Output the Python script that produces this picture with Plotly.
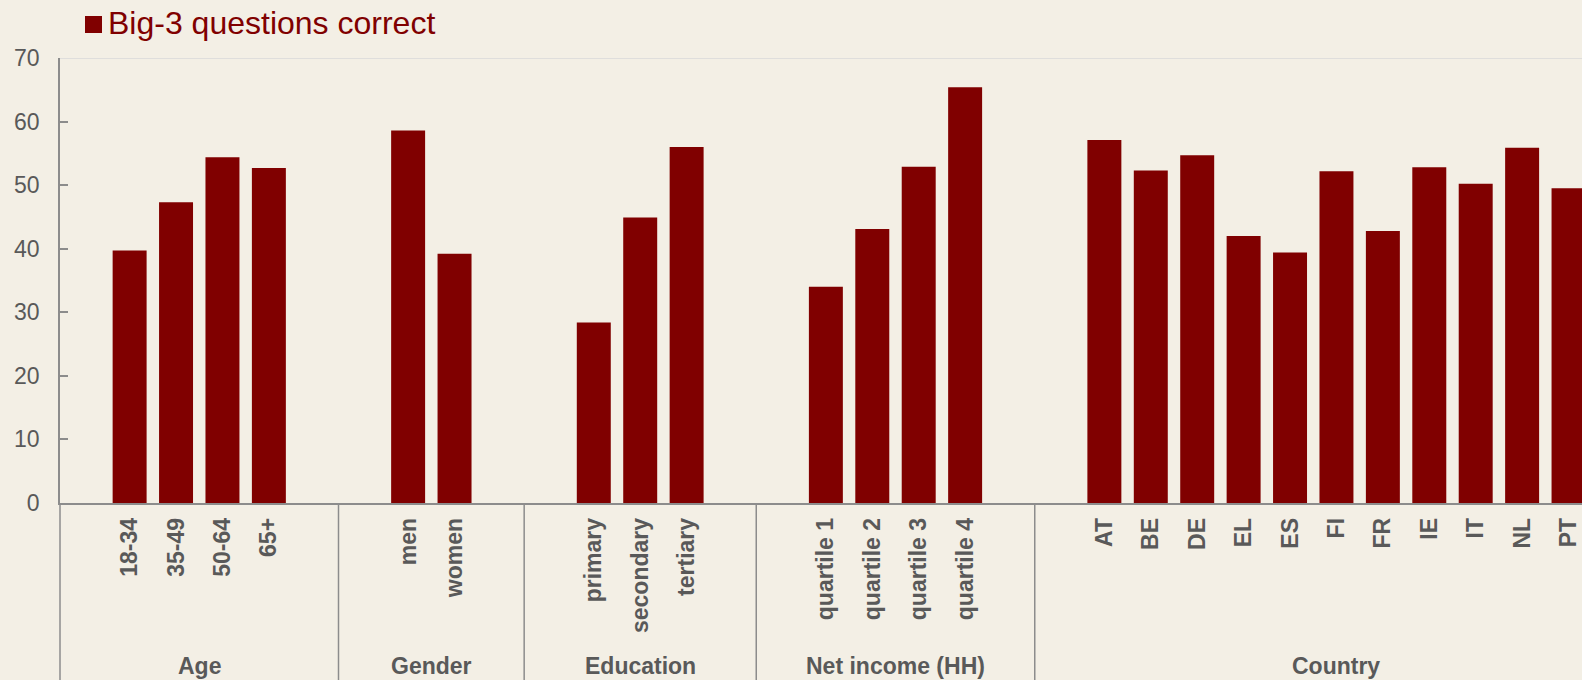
import plotly.graph_objects as go

# ---- data ----
groups = ["Age", "Gender", "Education", "Net income (HH)", "Country"]
age_labels = ["18-34", "35-49", "50-64", "65+"]
age_values = [39.7, 47.3, 54.4, 52.7]
gender_labels = ["men", "women"]
gender_values = [58.6, 39.2]
edu_labels = ["primary", "secondary", "tertiary"]
edu_values = [28.4, 44.9, 56.0]
income_labels = ["quartile 1", "quartile 2", "quartile 3", "quartile 4"]
income_values = [34.0, 43.1, 52.9, 65.4]
country_labels = ["AT", "BE", "DE", "EL", "ES", "FI", "FR", "IE", "IT", "NL", "PT"]
country_values = [57.1, 52.3, 54.7, 42.0, 39.4, 52.2, 42.8, 52.8, 50.2, 55.9, 49.5]
series_name = "Big-3 questions correct"

group_labels = [age_labels, gender_labels, edu_labels, income_labels, country_labels]
group_values = [age_values, gender_values, edu_values, income_values, country_values]

BG = "#F3EFE5"
BAR = "#800000"
TXT = "#595959"
AX = "#8C8C8C"
FONT = "Liberation Sans, Arial, sans-serif"

# build category axis with spacer slots between groups
cat_array = []
xs, ys = [], []
group_spans = []
gap = 0
for gi, (labs, vals) in enumerate(zip(group_labels, group_values)):
    start = len(cat_array)
    cat_array.append(f"gap{gap}"); gap += 1
    for l, v in zip(labs, vals):
        cat_array.append(l); xs.append(l); ys.append(v)
    if gi < len(group_labels) - 1:
        cat_array.append(f"gap{gap}"); gap += 1
        end = len(cat_array)
    else:
        end = len(cat_array) + 1  # last group continues off-chart
    group_spans.append((start - 0.5, end - 0.5))

fig = go.Figure()
fig.add_trace(go.Bar(x=xs, y=ys, marker=dict(color=BAR, line=dict(width=0)),
                     showlegend=False, name=series_name))

shapes = []
annotations = []
# group separators and y-axis extension below the axis
for (s, e) in group_spans[:-1]:
    shapes.append(dict(type="line", xref="x", yref="paper", x0=e, x1=e, y0=0, y1=-0.5,
                       line=dict(color=AX, width=1.5)))
shapes.append(dict(type="line", xref="paper", yref="paper", x0=0, x1=0, y0=0, y1=-0.5,
                   line=dict(color=AX, width=1.5)))
# top border line at 70
shapes.append(dict(type="line", xref="paper", yref="y", x0=0, x1=1, y0=70, y1=70,
                   line=dict(color="#D9D9D9", width=1.5)))
# legend square
shapes.append(dict(type="rect", xref="paper", yref="paper",
                   x0=(85 - 60) / 1522, x1=(102 - 60) / 1522,
                   y0=(503 - 33) / 445, y1=(503 - 16) / 445,
                   fillcolor=BAR, line=dict(width=0)))
annotations.append(dict(text=series_name, xref="paper", yref="paper",
                        x=(106 - 60) / 1522, y=(503 - 23) / 445, xanchor="left", yanchor="middle",
                        showarrow=False, font=dict(family=FONT, size=32, color=BAR)))
for g, (s, e) in zip(groups, group_spans):
    annotations.append(dict(text=g, xref="x", yref="paper", x=(s + e) / 2, y=-(666 - 503) / 445,
                            xanchor="center", yanchor="middle", showarrow=False,
                            font=dict(family=FONT, size=23, color=TXT, weight="bold")))

fig.update_layout(
    width=1582, height=680,
    margin=dict(l=60, r=0, t=58, b=177),
    paper_bgcolor=BG, plot_bgcolor=BG,
    bargap=0.268,
    shapes=shapes, annotations=annotations,
    xaxis=dict(type="category", categoryorder="array", categoryarray=cat_array,
               range=[-0.5, 32.29], tickvals=xs, ticktext=xs, tickangle=-90,
               tickfont=dict(family=FONT, size=23, color=TXT, weight="bold"),
               showline=True, linecolor=AX, linewidth=1.5, ticks="", showgrid=False,
               ticklabelstandoff=4),
    yaxis=dict(range=[0, 70], tickvals=[0, 10, 20, 30, 40, 50, 60, 70],
               tickfont=dict(family=FONT, size=23, color=TXT),
               showline=True, linecolor=AX, linewidth=1.5, ticks="inside", ticklen=8,
               tickcolor=AX, tickwidth=1.5, showgrid=False, zeroline=False,
               ticklabelstandoff=14),
)

fig.write_html("out.html")
